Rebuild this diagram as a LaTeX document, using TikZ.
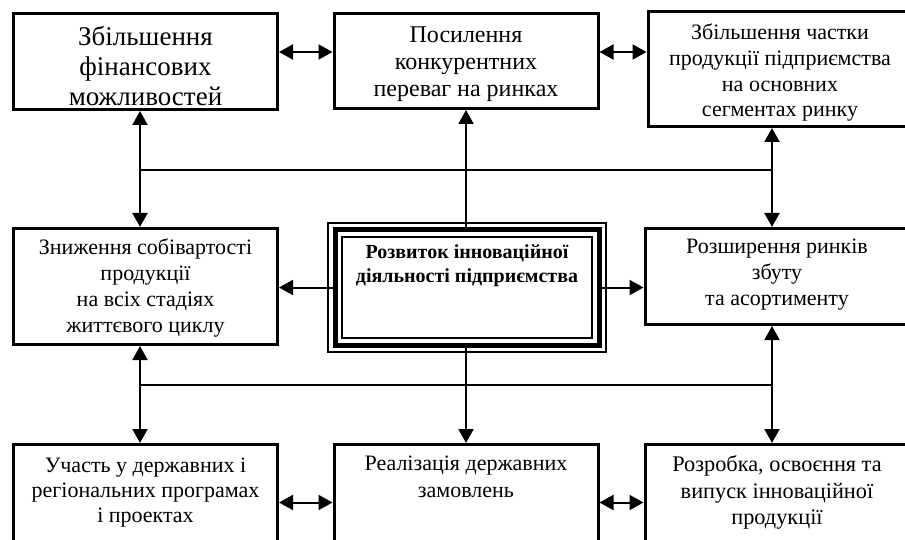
\documentclass[tikz,border=0pt]{standalone}
\usepackage{fontspec}
\setmainfont{Liberation Serif}
\usetikzlibrary{arrows.meta}
\newcommand{\blk}[3]{\parbox[c][#1][t]{264pt}{\centering\vspace*{#2}#3}}

\begin{document}
\begin{tikzpicture}[x=1pt,y=-1pt]
    \tikzset{block/.style = {draw, line width=3pt, inner sep=0pt}}
    \tikzset{fs/.style 2 args = {font=\fontsize{#1pt}{#2pt}\selectfont}}
    \tikzset{main/.style = {draw, line width=5pt, inner sep=0pt, preaction={draw, line width=16pt}, preaction={draw=white, line width=12pt}, font=\fontsize{20pt}{24pt}\selectfont\bfseries}}
    \tikzset{line/.style = {draw, line width=2pt}}
    \tikzset{arr/.style = {line, -{Triangle[length=14pt,width=15pt]}}}
    \tikzset{dbl/.style = {line, {Triangle[length=14pt,width=15pt]}-{Triangle[length=14pt,width=15pt]}}}

    \useasboundingbox (0,0) rectangle (905,540);
    \clip (0,0) rectangle (905,540);

    % blocks
    \node[block, fs={27}{30}] (fin) at (145.5,61.5) {\parbox[c][96pt][c]{264pt}{\centering\vspace*{9pt}Збільшення\\фінансових\\можливостей}};
    \node[block, fs={24}{27}] (konk) at (466,61) {\blk{95pt}{13.3pt}{Посилення\\конкурентних\\переваг на ринках}};
    \node[block, fs={22}{25.7}] (chast) at (780,69) {\blk{115pt}{12.6pt}{Збільшення частки\\продукції підприємства\\на основних\\сегментах ринку}};
    \node[block, fs={22}{26}] (sob) at (145.5,286.5) {\blk{116pt}{10.5pt}{Зниження собівартості\\продукції\\на всіх стадіях\\життєвого циклу}};
    \node[main] (centr) at (467,287.5) {\blk{115pt}{15pt}{Розвиток інноваційної\\діяльності підприємства}};
    \node[block, fs={22}{26}] (rynk) at (777,276.5) {\blk{96pt}{10.6pt}{Розширення ринків\\збуту\\та асортименту}};
    \node[block, fs={22}{25.3}] (prog) at (145.5,502.5) {\blk{116pt}{13.2pt}{Участь у державних і\\регіональних програмах\\і проектах}};
    \node[block, fs={22}{26.5}] (zam) at (466,502.5) {\blk{116pt}{11.5pt}{Реалізація державних\\замовлень}};
    \node[block, fs={22.3}{26.5}] (inn) at (777,502.5) {\blk{116pt}{11.2pt}{Розробка, освоєння та\\випуск інноваційної\\продукції}};

    % buses
    \coordinate (tl) at (140,170);
    \coordinate (tr) at (772,170);
    \coordinate (bl) at (140,385);
    \coordinate (br) at (772,385);
    \draw[line] (tl) -- (tr);
    \draw[line] (bl) -- (br);

    % arrows
    \draw[dbl] ([yshift=9.5pt]fin.east) -- ([yshift=9.5pt]fin.east -| konk.west);
    \draw[dbl] ([yshift=9pt]konk.east) -- ([yshift=9pt]konk.east -| chast.west);
    \draw[arr] (centr.north -| konk.south) -- (konk.south);
    \draw[arr] (centr.west) -- (centr.west -| sob.east);
    \draw[arr] (centr.east) -- (centr.east -| rynk.west);
    \draw[arr] (centr.south -| zam.north) -- (zam.north);
    \draw[dbl] (fin.south -| tl) -- (sob.north -| tl);
    \draw[dbl] (chast.south -| tr) -- (rynk.north -| tr);
    \draw[dbl] (sob.south -| bl) -- (prog.north -| bl);
    \draw[dbl] (rynk.south -| br) -- (inn.north -| br);
    \draw[dbl] (prog.east) -- (zam.west);
    \draw[dbl] (zam.east) -- (inn.west);
\end{tikzpicture}
\end{document}
